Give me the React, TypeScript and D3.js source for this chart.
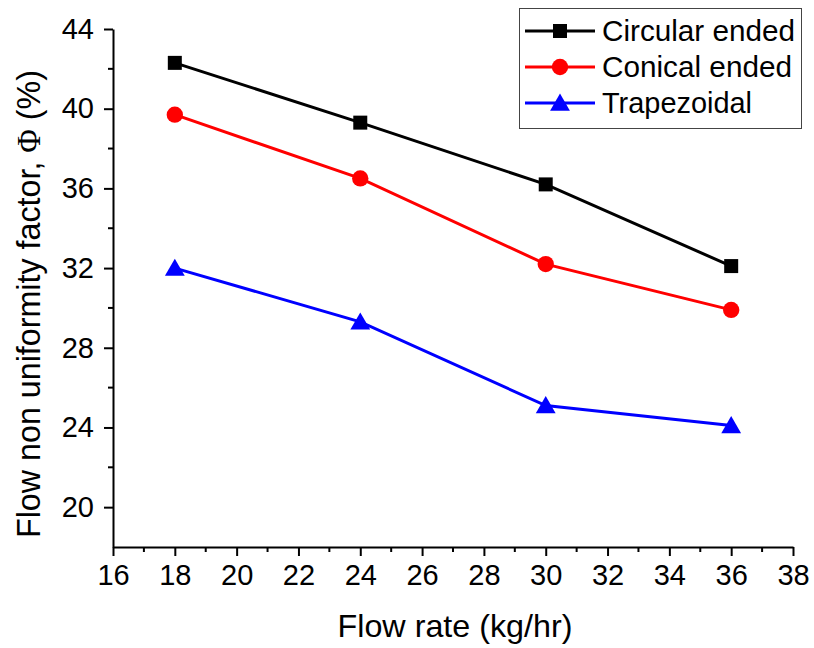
import { useRef, useEffect } from "react";
import * as d3 from "d3";

const flowRates = [18, 24, 30, 36];
const circular = [42.3, 39.3, 36.2, 32.1];
const conical = [39.7, 36.5, 32.2, 29.9];
const trapezoidal = [32.0, 29.3, 25.1, 24.1];
const xTicks = [16, 18, 20, 22, 24, 26, 28, 30, 32, 34, 36, 38];
const yTicks = [20, 24, 28, 32, 36, 40, 44];

const series = [
  { name: "Circular ended", values: circular, color: "#000000", shape: "square" },
  { name: "Conical ended", values: conical, color: "#ff0000", shape: "circle" },
  { name: "Trapezoidal", values: trapezoidal, color: "#0000ff", shape: "triangle" },
];

const width = 814;
const height = 648;
const margin = { top: 29, right: 21, bottom: 101, left: 113 };

export default function App() {
  const svgRef = useRef<SVGSVGElement | null>(null);

  useEffect(() => {
    if (!svgRef.current) return;
    const svg = d3.select(svgRef.current);
    svg.selectAll("*").remove();
    const family = "Arial, 'Liberation Sans', sans-serif";

    const x = d3.scaleLinear().domain([16, 38]).range([margin.left, width - margin.right]);
    const y = d3.scaleLinear().domain([18, 44]).range([height - margin.bottom, margin.top]);

    // x axis
    const xg = svg
      .append("g")
      .attr("transform", `translate(0,${height - margin.bottom})`)
      .call(d3.axisBottom(x).tickValues(xTicks).tickSize(9).tickSizeOuter(0).tickPadding(8));
    xg.attr("font-size", 29).attr("font-family", family);
    xg.selectAll(".tick text").attr("fill", "#000");
    xg.selectAll("line, path").attr("stroke", "#000").attr("stroke-width", 2);
    const xMinor = d3.range(17, 38, 2);
    xg.selectAll(".minor")
      .data(xMinor)
      .join("line")
      .attr("x1", (d) => x(d))
      .attr("x2", (d) => x(d))
      .attr("y1", 0)
      .attr("y2", 5)
      .attr("stroke", "#000")
      .attr("stroke-width", 2);

    // y axis
    const yg = svg
      .append("g")
      .attr("transform", `translate(${margin.left},0)`)
      .call(d3.axisLeft(y).tickValues(yTicks).tickSize(9).tickSizeOuter(0).tickPadding(10));
    yg.attr("font-size", 29).attr("font-family", family);
    yg.selectAll(".tick text").attr("fill", "#000");
    yg.selectAll("line, path").attr("stroke", "#000").attr("stroke-width", 2);
    const yMinor = [22, 26, 30, 34, 38, 42];
    yg.selectAll(".minor")
      .data(yMinor)
      .join("line")
      .attr("x1", 0)
      .attr("x2", -5)
      .attr("y1", (d) => y(d))
      .attr("y2", (d) => y(d))
      .attr("stroke", "#000")
      .attr("stroke-width", 2);

    // axis titles
    svg
      .append("text")
      .attr("x", 455)
      .attr("y", 637)
      .attr("text-anchor", "middle")
      .attr("textLength", 235)
      .attr("lengthAdjust", "spacingAndGlyphs")
      .attr("font-size", 32)
      .attr("font-family", family)
      .text("Flow rate (kg/hr)");

    const yt = svg
      .append("text")
      .attr("transform", `translate(40,304) rotate(-90)`)
      .attr("text-anchor", "middle")
      .attr("textLength", 468)
      .attr("lengthAdjust", "spacingAndGlyphs")
      .attr("font-size", 34)
      .attr("font-family", family);
    yt.append("tspan").text("Flow non uniformity factor, ");
    yt.append("tspan").attr("font-family", "'Liberation Serif', 'Times New Roman', serif").text("Φ");
    yt.append("tspan").text(" (%)");

    const symbol = (shape: string) =>
      shape === "square"
        ? d3.symbol(d3.symbolSquare, 196)
        : shape === "circle"
        ? d3.symbol(d3.symbolCircle, 210)
        : d3.symbol(d3.symbolTriangle, 170);

    const line = d3
      .line<number>()
      .x((_, i) => x(flowRates[i]))
      .y((d) => y(d));

    series.forEach((s) => {
      svg
        .append("path")
        .datum(s.values)
        .attr("d", line)
        .attr("fill", "none")
        .attr("stroke", s.color)
        .attr("stroke-width", 3);
      svg
        .append("g")
        .selectAll("path")
        .data(s.values)
        .join("path")
        .attr("transform", (d, i) => `translate(${x(flowRates[i])},${y(d) + (s.shape === "triangle" ? 2 : 0)})`)
        .attr("d", symbol(s.shape))
        .attr("fill", s.color);
    });

    // legend
    const lg = svg.append("g");
    lg.append("rect")
      .attr("x", 519.5)
      .attr("y", 8.5)
      .attr("width", 282)
      .attr("height", 120)
      .attr("fill", "#fff")
      .attr("stroke", "#444")
      .attr("stroke-width", 1);
    const legendWidths = [193, 190, 150];
    series.forEach((s, i) => {
      const cy = 31 + i * 36;
      lg.append("line")
        .attr("x1", 525)
        .attr("x2", 595)
        .attr("y1", cy)
        .attr("y2", cy)
        .attr("stroke", s.color)
        .attr("stroke-width", 3);
      lg.append("path")
        .attr("transform", `translate(560,${cy + (s.shape === "triangle" ? 2 : 0)})`)
        .attr("d", symbol(s.shape))
        .attr("fill", s.color);
      lg.append("text")
        .attr("x", 602)
        .attr("y", cy + 10)
        .attr("textLength", legendWidths[i])
        .attr("lengthAdjust", "spacingAndGlyphs")
        .attr("font-size", 29)
        .attr("font-family", family)
        .text(s.name);
    });
  }, []);

  return (
    <div style={{ position: "absolute", left: 0, top: 0 }}>
      <svg ref={svgRef} width={width} height={height} style={{ display: "block", background: "#fff" }} />
    </div>
  );
}
